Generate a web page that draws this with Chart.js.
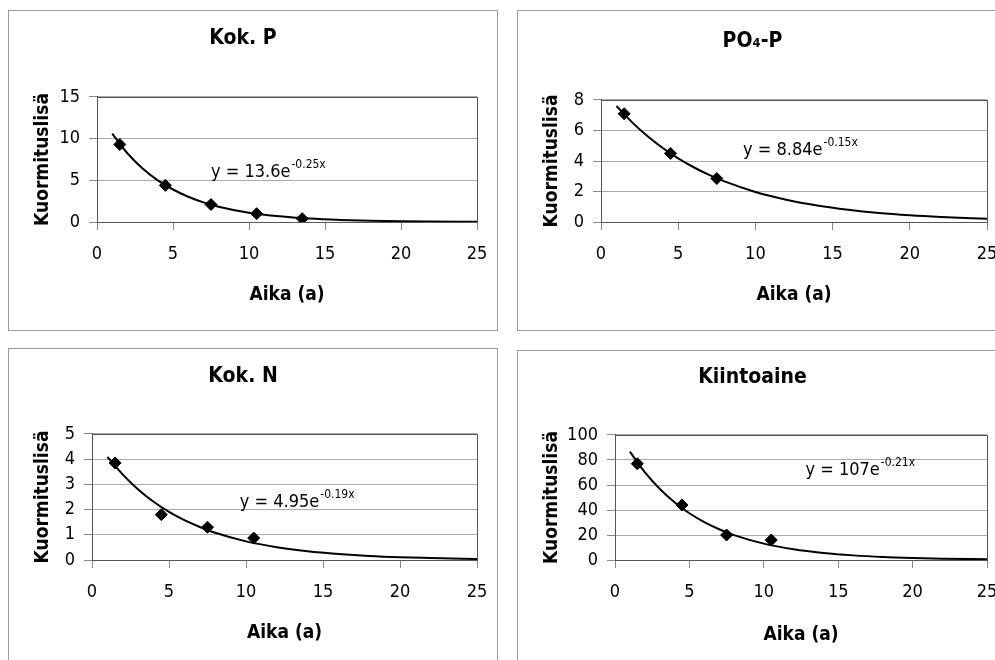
<!DOCTYPE html>
<html>
<head>
<meta charset="utf-8">
<script src="https://cdn.jsdelivr.net/npm/chart.js@4.4.0/dist/chart.umd.min.js"></script>
<style>
  html, body { margin: 0; padding: 0; background: #fff; }
  body { width: 995px; height: 660px; position: relative; overflow: hidden; }
  .panel { position: absolute; width: 490px; height: 321px; box-sizing: border-box; border: 1px solid #9a9a9a; background: #fff; }
  .panel canvas { display: block; }
</style>
</head>
<body>
<div class="panel" style="left:8px;top:10px"><canvas id="c1" width="488" height="319"></canvas></div>
<div class="panel" style="left:517px;top:10px"><canvas id="c2" width="488" height="319"></canvas></div>
<div class="panel" style="left:8px;top:348px"><canvas id="c3" width="488" height="319"></canvas></div>
<div class="panel" style="left:517px;top:350px"><canvas id="c4" width="488" height="319"></canvas></div>
<script>
// --- data ---
const xTicks = [0, 5, 10, 15, 20, 25];
const trendX = [1, 2, 3, 4, 5, 6, 7, 8, 10, 12, 14, 16, 18, 20, 22, 25];

// Kok. P
const kokPX = [1.5, 4.5, 7.5, 10.5, 13.5];
const kokPY = [9.3, 4.4, 2.1, 1.0, 0.4];
const kokPTrend = [10.6, 8.25, 6.42, 5.0, 3.9, 3.03, 2.36, 1.84, 1.12, 0.68, 0.41, 0.25, 0.15, 0.09, 0.06, 0.03];
const kokPTicks = [0, 5, 10, 15];
const kokPEq = ['y = 13.6e', '-0.25x'];

// PO4-P
const po4X = [1.5, 4.5, 7.5];
const po4Y = [7.1, 4.5, 2.85];
const po4Trend = [7.61, 6.55, 5.64, 4.85, 4.17, 3.59, 3.09, 2.66, 1.97, 1.46, 1.08, 0.8, 0.59, 0.44, 0.33, 0.21];
const po4Ticks = [0, 2, 4, 6, 8];
const po4Eq = ['y = 8.84e', '-0.15x'];

// Kok. N
const kokNX = [1.5, 4.5, 7.5, 10.5];
const kokNY = [3.85, 1.8, 1.3, 0.87];
const kokNTrend = [4.09, 3.39, 2.8, 2.31, 1.91, 1.58, 1.31, 1.08, 0.74, 0.51, 0.35, 0.24, 0.16, 0.11, 0.08, 0.04];
const kokNTicks = [0, 1, 2, 3, 4, 5];
const kokNEq = ['y = 4.95e', '-0.19x'];

// Kiintoaine
const kiintX = [1.5, 4.5, 7.5, 10.5];
const kiintY = [77, 44, 20, 16];
const kiintTrend = [86.7, 70.3, 57.0, 46.2, 37.4, 30.3, 24.6, 19.9, 13.1, 8.6, 5.65, 3.7, 2.4, 1.6, 1.06, 0.56];
const kiintTicks = [0, 20, 40, 60, 80, 100];
const kiintEq = ['y = 107e', '-0.21x'];

const FONT = '"Liberation Sans Narrow", "DejaVu Sans Condensed", "Liberation Sans", sans-serif';
Chart.defaults.font.family = FONT;

// plot area edges inside each canvas + title centre + equation anchor (data units)
const geo = {
  c1: { left: 88, right: 468, top: 86, bottom: 211, title: 28, eq: [7.5, 5.4] },
  c2: { left: 83, right: 469, top: 89, bottom: 211, title: 31, eq: [9.2, 4.4] },
  c3: { left: 83, right: 468, top: 85, bottom: 211, title: 28, eq: [9.6, 2.1] },
  c4: { left: 97, right: 469, top: 84, bottom: 209, title: 27, eq: [12.8, 68] }
};

// frame round the plot area (top + right edges)
const frame = {
  id: 'frame',
  beforeDatasetsDraw(chart) {
    const { ctx, chartArea: a } = chart;
    ctx.save();
    ctx.strokeStyle = '#555';
    ctx.lineWidth = 1;
    ctx.strokeRect(Math.round(a.left) + 0.5, Math.round(a.top) + 0.5, Math.round(a.right - a.left), Math.round(a.bottom - a.top));
    ctx.restore();
  }
};

// trend equation with superscript exponent
const eqLabel = {
  id: 'eqLabel',
  afterDatasetsDraw(chart, args, o) {
    const { ctx, scales } = chart;
    const px = scales.x.getPixelForValue(o.x);
    const py = scales.y.getPixelForValue(o.y);
    ctx.save();
    ctx.fillStyle = '#000';
    ctx.textAlign = 'left';
    ctx.textBaseline = 'alphabetic';
    ctx.font = '18px ' + FONT;
    ctx.fillText(o.main, px, py);
    const w = ctx.measureText(o.main).width;
    ctx.font = '12px ' + FONT;
    ctx.fillText(o.sup, px + w + 1, py - 9);
    ctx.restore();
  }
};

function makeChart(id, title, xs, ys, trend, yTicks, eq) {
  const canvas = document.getElementById(id);
  const g = geo[id];
  const W = canvas.width, H = canvas.height;
  const tSize = 21, tLine = tSize * 1.2;
  const padTop = g.title - tLine / 2;

  return new Chart(canvas, {
    type: 'scatter',
    data: {
      datasets: [
        {
          data: trendX.map((x, i) => ({ x: x, y: trend[i] })),
          showLine: true,
          borderColor: '#000',
          borderWidth: 2,
          pointRadius: 0,
          cubicInterpolationMode: 'monotone',
          fill: false
        },
        {
          data: xs.map((x, i) => ({ x: x, y: ys[i] })),
          showLine: false,
          pointStyle: 'rectRot',
          pointRadius: 6,
          backgroundColor: '#000',
          borderColor: '#000'
        }
      ]
    },
    options: {
      responsive: false,
      animation: false,
      events: [],
      layout: { padding: { left: 0, top: 0, bottom: 0, right: W - g.right } },
      plugins: {
        legend: { display: false },
        tooltip: { enabled: false },
        title: {
          display: true,
          text: title,
          color: '#000',
          font: { size: tSize, weight: 'bold', lineHeight: 1.2 },
          padding: { top: padTop, bottom: g.top - padTop - tLine }
        },
        eqLabel: { x: g.eq[0], y: g.eq[1], main: eq[0], sup: eq[1] }
      },
      scales: {
        x: {
          type: 'linear',
          min: xTicks[0],
          max: xTicks[xTicks.length - 1],
          ticks: { stepSize: xTicks[1] - xTicks[0], color: '#000', font: { size: 18 }, padding: 14, maxRotation: 0 },
          grid: { drawOnChartArea: false, drawTicks: true, tickLength: 8, tickColor: '#888' },
          border: { color: '#555', width: 1 },
          title: {
            display: true, text: 'Aika (a)', color: '#000',
            font: { size: 19, weight: 'bold', lineHeight: 1.2 },
            padding: { top: 0, bottom: 23.6 }
          },
          // fixed height; drop the side padding the tick padding would add
          afterFit: s => { s.height = H - g.bottom; s.paddingLeft = 0; s.paddingRight = 0; }
        },
        y: {
          type: 'linear',
          min: yTicks[0],
          max: yTicks[yTicks.length - 1],
          ticks: { stepSize: yTicks[1] - yTicks[0], color: '#000', font: { size: 18 }, padding: 9 },
          grid: { color: '#aaa', tickColor: '#888', tickLength: 8 },
          border: { color: '#555', width: 1 },
          title: {
            display: true, text: 'Kuormituslisä', color: '#000',
            font: { size: 19, weight: 'bold', lineHeight: 1.2 },
            padding: { top: 22.6, bottom: 0 }
          },
          afterFit: s => { s.width = g.left; }
        }
      }
    },
    plugins: [frame, eqLabel]
  });
}

makeChart('c1', 'Kok. P', kokPX, kokPY, kokPTrend, kokPTicks, kokPEq);
makeChart('c2', 'PO₄-P', po4X, po4Y, po4Trend, po4Ticks, po4Eq);
makeChart('c3', 'Kok. N', kokNX, kokNY, kokNTrend, kokNTicks, kokNEq);
makeChart('c4', 'Kiintoaine', kiintX, kiintY, kiintTrend, kiintTicks, kiintEq);
</script>
</body>
</html>
